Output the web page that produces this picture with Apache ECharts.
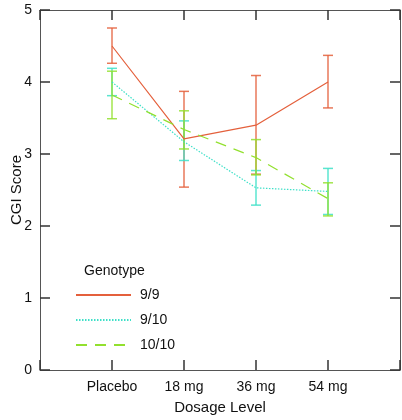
<!DOCTYPE html>
<html><head><meta charset="utf-8">
<script src="https://cdn.jsdelivr.net/npm/echarts@6/dist/echarts.min.js"></script>
<style>html,body{margin:0;padding:0;background:#fff}#c{width:402px;height:420px}</style>
</head><body><div id="c"></div>
<script>
const categories = ['Placebo', '18 mg', '36 mg', '54 mg'];
const yTicks = [0, 1, 2, 3, 4, 5];
const genotypes = ['9/9', '9/10', '10/10'];
// means
const mean99 = [4.50, 3.21, 3.40, 4.00];
const mean910 = [4.00, 3.17, 2.53, 2.48];
const mean1010 = [3.82, 3.34, 2.95, 2.38];
// error bar lows / highs
const low99 = [4.26, 2.54, 2.72, 3.64];
const high99 = [4.75, 3.87, 4.09, 4.37];
const low910 = [3.81, 2.91, 2.29, 2.16];
const high910 = [4.19, 3.46, 2.77, 2.80];
const low1010 = [3.49, 3.07, 2.71, 2.14];
const high1010 = [4.15, 3.60, 3.20, 2.60];

const colors = ['#e4603c', '#3ee0c8', '#92e02e'];
const font = 'Liberation Sans, Arial, sans-serif';

const means = [mean99, mean910, mean1010];
const lows = [low99, low910, low1010];
const highs = [high99, high910, high1010];
const dashes = ['solid', [1.5, 1.5], [11, 8]];

const series = [];
genotypes.forEach((g, k) => {
  series.push({
    name: g, type: 'line', symbol: 'none', showSymbol: false,
    data: means[k].map((v, i) => [i + 1, v]),
    lineStyle: { color: colors[k], width: 1.2, type: dashes[k] },
    itemStyle: { color: colors[k] },
    z: 3
  });
});
genotypes.forEach((g, k) => {
  series.push({
    type: 'custom',
    data: lows[k].map((v, i) => [i + 1, v, highs[k][i]]),
    renderItem: function (params, api) {
      const lo = api.coord([api.value(0), api.value(1)]);
      const hi = api.coord([api.value(0), api.value(2)]);
      const w = 5;
      const st = { stroke: colors[k], lineWidth: 1.5, opacity: 0.85 };
      return { type: 'group', children: [
        { type: 'line', shape: { x1: lo[0], y1: lo[1], x2: hi[0], y2: hi[1] }, style: st },
        { type: 'line', shape: { x1: lo[0] - w, y1: lo[1], x2: lo[0] + w, y2: lo[1] }, style: st },
        { type: 'line', shape: { x1: hi[0] - w, y1: hi[1], x2: hi[0] + w, y2: hi[1] }, style: st }
      ]};
    },
    z: 2
  });
});

function mkLine() { return { show: true, onZero: false, lineStyle: { color: '#555', width: 1 } }; }
function mkTick() { return { show: true, inside: true, length: 10, lineStyle: { color: '#333', width: 1.5 } }; }

const chart = echarts.init(document.getElementById('c'), null, { renderer: 'canvas' });
chart.setOption({
  animation: false,
  backgroundColor: '#fff',
  textStyle: { fontFamily: font },
  grid: { left: 40, right: 2, top: 10, bottom: 50, containLabel: false, outerBoundsMode: 'none' },
  title: { text: 'Genotype', left: 79, top: 259, textStyle: { fontFamily: font, fontSize: 14, fontWeight: 'normal', color: '#111' } },
  legend: {
    data: genotypes, orient: 'vertical', left: 70, top: 283,
    itemWidth: 55, itemHeight: 14, itemGap: 11,
    itemStyle: { opacity: 0 },
    textStyle: { fontFamily: font, fontSize: 14, color: '#111', padding: [0, 0, 0, 4] }
  },
  xAxis: [{
    type: 'value', min: 0, max: 5, interval: 1, position: 'bottom',
    axisLine: mkLine(), axisTick: mkTick(), splitLine: { show: false },
    axisLabel: { fontFamily: font, fontSize: 14, color: '#111', margin: 10, showMinLabel: true, showMaxLabel: true,
      formatter: v => categories[v - 1] || '' },
    name: 'Dosage Level', nameLocation: 'middle', nameGap: 30,
    nameTextStyle: { fontFamily: font, fontSize: 15, color: '#111' }
  }, {
    type: 'value', min: 0, max: 5, interval: 1, position: 'top',
    axisLine: mkLine(), axisTick: mkTick(), splitLine: { show: false }, axisLabel: { show: false }
  }],
  yAxis: [{
    type: 'value', min: yTicks[0], max: yTicks[yTicks.length - 1], interval: 1, position: 'left',
    axisLine: mkLine(), axisTick: mkTick(), splitLine: { show: false },
    axisLabel: { fontFamily: font, fontSize: 14, color: '#111', margin: 8 },
    name: 'CGI Score', nameLocation: 'middle', nameGap: 16, nameRotate: 90, nameMoveOverlap: false,
    nameTextStyle: { fontFamily: font, fontSize: 15, color: '#111' }
  }, {
    type: 'value', min: 0, max: 5, interval: 1, position: 'right',
    axisLine: mkLine(), axisTick: mkTick(), splitLine: { show: false }, axisLabel: { show: false }
  }],
  series
});
</script></body></html>
